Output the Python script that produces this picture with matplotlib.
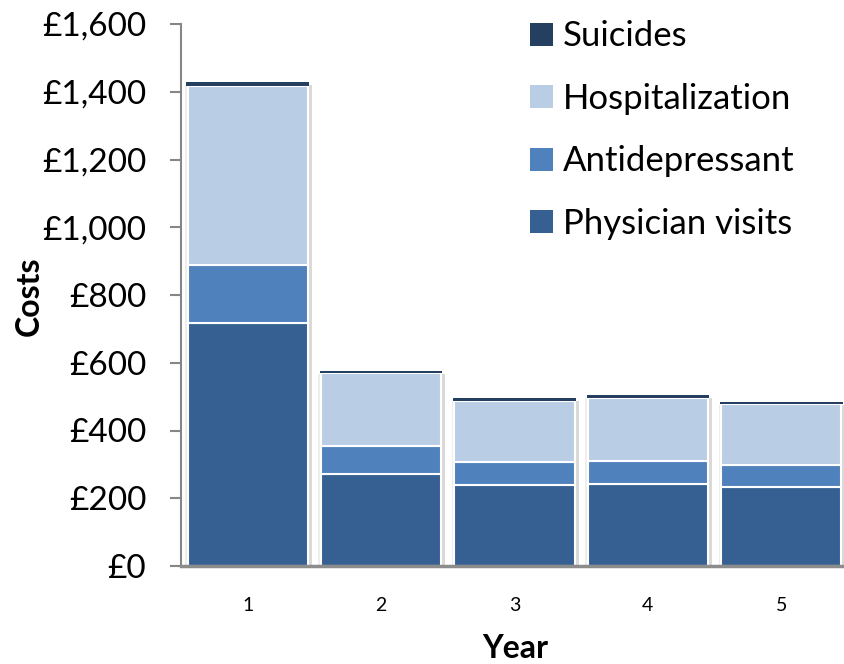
import matplotlib.pyplot as plt
import numpy as np

# data
years = ['1', '2', '3', '4', '5']
physician = [717, 272, 239, 242, 233]
antidepressant = [172, 82, 68, 68, 65]
hospitalization = [528, 216, 180, 186, 180]
suicides = [12, 6, 9, 9, 6]

col_phys = '#366092'
col_anti = '#4F81BD'
col_hosp = '#B9CDE5'
col_sui = '#243F60'

plt.rcParams['font.family'] = ['Lato', 'DejaVu Sans']

fig = plt.figure(figsize=(8.44, 6.64), dpi=100)
ax = fig.add_axes([181 / 844, 98 / 664, 667 / 844, 542 / 664])

x = np.arange(len(years))
w = 0.9
total = np.array(physician) + np.array(antidepressant) + np.array(hospitalization) + np.array(suicides)

# soft shadow behind each stack
ax.bar(x + 0.03, total - 8, w, color='#d9d9d9', zorder=1, linewidth=0)
ax.bar(x - 0.02, total - 8, w, color='#eeeeee', zorder=1, linewidth=0)

b0 = np.zeros(len(years))
bars_phys = ax.bar(x, physician, w, bottom=b0, color=col_phys, edgecolor='white', linewidth=1.5, zorder=2, label='Physician visits')
b0 = b0 + physician
bars_anti = ax.bar(x, antidepressant, w, bottom=b0, color=col_anti, edgecolor='white', linewidth=1.5, zorder=2, label='Antidepressant')
b0 = b0 + antidepressant
bars_hosp = ax.bar(x, hospitalization, w, bottom=b0, color=col_hosp, edgecolor='white', linewidth=1.5, zorder=2, label='Hospitalization')
b0 = b0 + hospitalization
bars_sui = ax.bar(x, suicides, w + 0.02, bottom=b0, color=col_sui, linewidth=0, zorder=3, label='Suicides')

ax.set_xlim(-0.5, len(years) - 0.5)
ax.set_ylim(0, 1600)
ax.set_yticks(range(0, 1601, 200))
ax.set_yticklabels(['£{:,}'.format(v) for v in range(0, 1601, 200)], fontsize=24)
ax.set_xticks(x)
ax.set_xticklabels(years, fontsize=14)

ax.tick_params(axis='y', length=8, width=1.5, color='#868686', pad=17)
ax.tick_params(axis='x', length=0, pad=22)

for s in ['top', 'right']:
    ax.spines[s].set_visible(False)
ax.spines['left'].set_color('#868686')
ax.spines['left'].set_linewidth(1.5)
ax.spines['bottom'].set_color('#8c8c8c')
ax.spines['bottom'].set_linewidth(2.5)
ax.spines['bottom'].set_zorder(4)

fig.text(29 / 844, 1 - 296 / 664, 'Costs', rotation=90, fontsize=23, fontweight='bold', ha='center', va='center')
fig.text(515 / 844, 1 - 648 / 664, 'Year', fontsize=23, fontweight='bold', ha='center', va='center')

handles = [bars_sui, bars_hosp, bars_anti, bars_phys]
labels = ['Suicides', 'Hospitalization', 'Antidepressant', 'Physician visits']
leg = fig.legend(handles, labels, loc='upper left', bbox_to_anchor=(513 / 844, 1 - 3 / 664),
                 frameon=False, fontsize=25, handlelength=0.65, handleheight=0.65,
                 handletextpad=0.28, labelspacing=0.88, borderpad=0)
for h in leg.legend_handles:
    h.set_edgecolor('none')

fig.savefig('out.png', dpi=100)
